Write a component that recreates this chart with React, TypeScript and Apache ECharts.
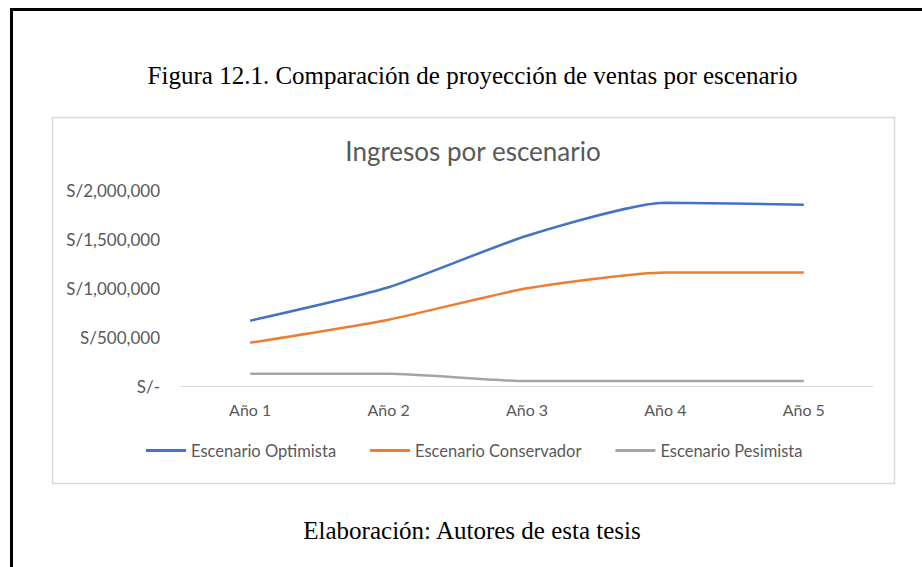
import React, { useEffect, useRef } from "react";
import * as echarts from "echarts";

const categories = ["Año 1", "Año 2", "Año 3", "Año 4", "Año 5"];
const optimista = [670000, 1010000, 1535000, 1870000, 1850000];
const conservador = [445000, 680000, 1000000, 1160000, 1160000];
const pesimista = [130000, 130000, 55000, 55000, 55000];
const seriesNames = ["Escenario Optimista", "Escenario Conservador", "Escenario Pesimista"];
const figureTitle = "Figura 12.1. Comparación de proyección de ventas por escenario";
const chartTitle = "Ingresos por escenario";
const caption = "Elaboración: Autores de esta tesis";

const SANS = "Lato, 'Open Sans', sans-serif";
const SERIF = "'Liberation Serif', 'Times New Roman', serif";

export default function App() {
  const ref = useRef<HTMLDivElement>(null);
  useEffect(() => {
    if (!ref.current) return;
    const chart = echarts.init(ref.current, undefined, { renderer: "svg" });
    const fmt = (v: number) => (v === 0 ? "S/-" : "S/" + v.toLocaleString("en-US"));
    chart.setOption({
      animation: false,
      backgroundColor: "#ffffff",
      title: {
        text: chartTitle,
        left: 468,
        top: 133,
        textAlign: "center",
        textStyle: { fontFamily: SANS, fontSize: 26, fontWeight: "normal", color: "#595959" },
      },
      graphic: [
        { type: "line", shape: { x1: 10, y1: 9.5, x2: 922, y2: 9.5 }, style: { stroke: "#000", lineWidth: 3 }, z: -1 },
        { type: "line", shape: { x1: 11.5, y1: 8, x2: 11.5, y2: 567 }, style: { stroke: "#000", lineWidth: 3 }, z: -1 },
        {
          type: "rect",
          shape: { x: 52.5, y: 117.5, width: 842, height: 366 },
          style: { fill: "#ffffff", stroke: "#d9d9d9", lineWidth: 1.5 },
          z: -2,
        },
        {
          type: "text",
          x: 472.5,
          y: 75,
          style: { text: figureTitle, fontFamily: SERIF, fontSize: 25, fill: "#000", textAlign: "center", textVerticalAlign: "middle" },
        },
        {
          type: "text",
          x: 472,
          y: 530,
          style: { text: caption, fontFamily: SERIF, fontSize: 25, fill: "#000", textAlign: "center", textVerticalAlign: "middle" },
        },
      ],
      legend: {
        data: seriesNames,
        left: 141,
        top: 437,
        icon: "rect",
        itemWidth: 40,
        itemHeight: 3,
        itemGap: 34,
        textStyle: { fontFamily: SANS, fontSize: 16.5, color: "#595959" },
      },
      grid: { left: 181, right: 49, top: 190, bottom: 180.5, containLabel: false },
      xAxis: {
        type: "category",
        data: categories,
        boundaryGap: true,
        axisLine: { lineStyle: { color: "#d9d9d9", width: 1 } },
        axisTick: { show: false },
        axisLabel: { fontFamily: SANS, fontSize: 16, color: "#595959", margin: 15 },
      },
      yAxis: {
        type: "value",
        min: 0,
        max: 2000000,
        interval: 500000,
        axisLine: { show: false },
        axisTick: { show: false },
        splitLine: { show: false },
        axisLabel: { fontFamily: SANS, fontSize: 17, color: "#595959", margin: 21, formatter: fmt },
      },
      series: [
        { name: seriesNames[0], type: "line", data: optimista, smooth: 0.2, showSymbol: false, lineStyle: { color: "#4472C4", width: 2.5 }, itemStyle: { color: "#4472C4" } },
        { name: seriesNames[1], type: "line", data: conservador, smooth: 0.2, showSymbol: false, lineStyle: { color: "#ED7D31", width: 2.5 }, itemStyle: { color: "#ED7D31" } },
        { name: seriesNames[2], type: "line", data: pesimista, smooth: 0.2, showSymbol: false, lineStyle: { color: "#A5A5A5", width: 2.5 }, itemStyle: { color: "#A5A5A5" } },
      ],
    });
    return () => chart.dispose();
  }, []);
  return <div ref={ref} style={{ position: "fixed", left: 0, top: 0, width: 922, height: 567 }} />;
}
